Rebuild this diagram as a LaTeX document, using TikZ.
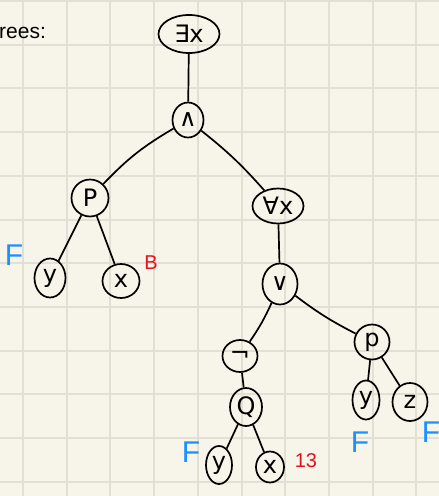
\documentclass[tikz,border=0pt]{standalone}
\usepackage{fontspec}
\setsansfont{Liberation Sans}
\newfontfamily\symf{DejaVu Sans}
\usetikzlibrary{shapes.geometric}
\definecolor{paper}{HTML}{F7F5EA}
\definecolor{gridc}{HTML}{E2E0D4}
\definecolor{fblue}{HTML}{1E8FFF}
\definecolor{bred}{HTML}{E0141E}
\begin{document}
\begin{tikzpicture}[x=1pt,y=-1pt,
  nd/.style={draw, ellipse, line width=1.7pt, inner sep=0pt, font=\symf\fontsize{24}{26}\selectfont},
  edge/.style={line width=1.7pt},
  flab/.style={text=fblue, inner sep=0pt, font=\sffamily\fontsize{30}{30}\selectfont},
  blab/.style={text=bred, inner sep=0pt, font=\sffamily\fontsize{20}{20}\selectfont}]
\fill[paper] (0,0) rectangle (439,496);
\useasboundingbox (0,0) rectangle (439,496);
\foreach \i in {0,...,9} \draw[gridc, line width=2pt] ({23+43.7*\i},0) -- ({23+43.7*\i},496);
\foreach \j in {0,...,11} \draw[gridc, line width=2pt] (0,{1+43.7*\j}) -- (439,{1+43.7*\j});
\node[anchor=west, inner sep=0pt, font=\sffamily\fontsize{21}{21}\selectfont] (title) at (-1,33) {rees:};
% nodes
\node[nd, minimum width=61pt, minimum height=38pt] (ex) at (189,34) {∃x};
\node[nd, minimum width=31pt, minimum height=35pt] (and) at (188,120) {∧};
\node[nd, minimum width=37pt, minimum height=37pt] (P) at (90,198) {P};
\node[nd, minimum width=31pt, minimum height=39pt] (y1) at (50,278) {y};
\node[nd, minimum width=37pt, minimum height=34pt] (x1) at (121,281) {x};
\node[nd, minimum width=51pt, minimum height=35pt] (all) at (278,206) {∀x};
\node[nd, minimum width=35pt, minimum height=41pt] (or) at (280,284) {∨};
\node[nd, minimum width=35pt, minimum height=32pt] (neg) at (240,356) {¬};
\node[nd, minimum width=32pt, minimum height=38pt] (Q) at (246,407) {Q};
\node[nd, minimum width=26pt, minimum height=38pt] (y2) at (219,465) {y};
\node[nd, minimum width=28pt, minimum height=31pt] (x2) at (270,467) {x};
\node[nd, minimum width=35pt, minimum height=35pt] (p) at (372,342) {p};
\node[nd, minimum width=27pt, minimum height=39pt] (y3) at (366,400) {y};
\node[nd, minimum width=35pt, minimum height=38pt] (z) at (410,402) {z};
% labels
\node[flab] (f1) at (14,255) {F};
\node[blab] (b1) at (151,263) {B};
\node[flab] (f2) at (191,452) {F};
\node[blab] (b2) at (306,461) {13};
\node[flab] (f3) at (360,442) {F};
\node[flab] (f4) at (431,432) {F};
% edges
\draw[edge] (ex) -- (and);
\draw[edge] (and) to[bend right=8] (P);
\draw[edge] (and) to[bend left=5] (all);
\draw[edge] (P) -- (y1);
\draw[edge] (P) -- (x1);
\draw[edge] (all) -- (or);
\draw[edge] (or) to[bend left=5] (neg);
\draw[edge] (or) to[bend right=5] (p);
\draw[edge] (neg) -- (Q);
\draw[edge] (Q) -- (y2);
\draw[edge] (Q) -- (x2);
\draw[edge] (p) -- (y3);
\draw[edge] (p) -- (z);
\end{tikzpicture}
\end{document}
